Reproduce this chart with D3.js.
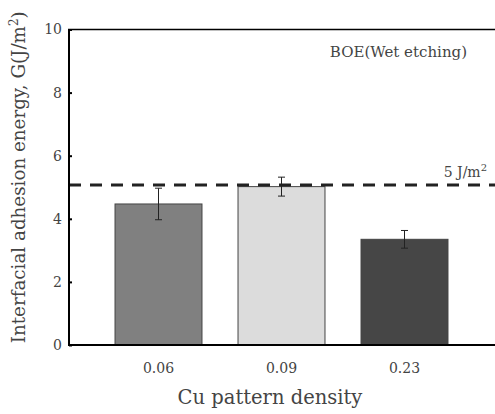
<!DOCTYPE html>
<html>
<head>
<meta charset="utf-8">
<script src="https://cdn.jsdelivr.net/npm/d3@7"></script>
<style>
  body { margin: 0; background: #fff; }
  text { font-family: "DejaVu Serif", "Liberation Serif", serif; fill: #444; }
</style>
</head>
<body>
<div id="chart"></div>
<script>
// data
var categories = ["0.06", "0.09", "0.23"];
var values = [4.47, 5.02, 3.35];
var errors = [0.5, 0.3, 0.28];
var fills = ["#808080", "#dcdcdc", "#464646"];
var yTicks = [0, 2, 4, 6, 8, 10];
var refValue = 5.07;

var W = 495, H = 414;
var margin = {top: 29.5, right: 0, bottom: 69, left: 69};
var width = W - margin.left - margin.right,
    height = H - margin.top - margin.bottom;

var svg = d3.select("#chart").append("svg")
    .attr("width", W)
    .attr("height", H)
  .append("g")
    .attr("transform", "translate(" + margin.left + "," + margin.top + ")");

// set the ranges
var x = d3.scaleBand()
    .domain(categories)
    .range([28, 397])
    .paddingInner(0.293)
    .paddingOuter(0.1465);
var y = d3.scaleLinear()
    .domain([0, 10])
    .range([height, 0]);

// bars
svg.selectAll("rect.bar")
    .data(values)
  .enter().append("rect")
    .attr("class", "bar")
    .attr("x", function(d, i) { return x(categories[i]); })
    .attr("width", x.bandwidth())
    .attr("y", function(d) { return y(d); })
    .attr("height", function(d) { return y(0) - y(d); })
    .attr("fill", function(d, i) { return fills[i]; })
    .attr("stroke", "#444")
    .attr("stroke-width", 1);

// error bars
var eb = svg.selectAll("g.err")
    .data(values)
  .enter().append("g")
    .attr("class", "err")
    .attr("stroke", "#222")
    .attr("stroke-width", 1);
eb.append("line")
    .attr("x1", function(d, i) { return x(categories[i]) + x.bandwidth() / 2; })
    .attr("x2", function(d, i) { return x(categories[i]) + x.bandwidth() / 2; })
    .attr("y1", function(d, i) { return y(d + errors[i]); })
    .attr("y2", function(d, i) { return y(d - errors[i]); });
[1, -1].forEach(function(s) {
  eb.append("line")
    .attr("x1", function(d, i) { return x(categories[i]) + x.bandwidth() / 2 - 3.5; })
    .attr("x2", function(d, i) { return x(categories[i]) + x.bandwidth() / 2 + 3.5; })
    .attr("y1", function(d, i) { return y(d + s * errors[i]); })
    .attr("y2", function(d, i) { return y(d + s * errors[i]); });
});

// reference dashed line
svg.append("line")
    .attr("x1", 0).attr("x2", width)
    .attr("y1", y(refValue)).attr("y2", y(refValue))
    .attr("stroke", "#222")
    .attr("stroke-width", 3)
    .attr("stroke-dasharray", "12,9");

// axes
var yAxis = svg.append("g")
    .call(d3.axisLeft(y).tickValues(yTicks).tickSize(-3).tickPadding(7));
yAxis.select(".domain").remove();
yAxis.selectAll(".tick line").attr("stroke", "#000").attr("stroke-width", 2);
yAxis.selectAll(".tick text").attr("font-size", 14).attr("fill", "#444")
    .attr("font-family", "DejaVu Serif");

var xAxis = svg.append("g")
    .attr("transform", "translate(0," + height + ")")
    .call(d3.axisBottom(x).tickSize(0).tickPadding(18));
xAxis.select(".domain").remove();
xAxis.selectAll(".tick text").attr("font-size", 14).attr("fill", "#444")
    .attr("font-family", "DejaVu Serif");

// frame lines
svg.append("line").attr("x1", 0).attr("x2", 0).attr("y1", 0).attr("y2", height)
    .attr("stroke", "#000").attr("stroke-width", 2);
svg.append("line").attr("x1", -1).attr("x2", width).attr("y1", height).attr("y2", height)
    .attr("stroke", "#000").attr("stroke-width", 2);
svg.append("line").attr("x1", -1).attr("x2", width).attr("y1", 0).attr("y2", 0)
    .attr("stroke", "#000").attr("stroke-width", 1.5);

// labels
svg.append("text")
    .attr("x", width / 2 - 12).attr("y", height + 59)
    .attr("text-anchor", "middle")
    .attr("font-size", 19.5)
    .text("Cu pattern density");

svg.append("text")
    .attr("transform", "translate(-44," + (height / 2 - 10) + ") rotate(-90)")
    .attr("text-anchor", "middle")
    .attr("font-size", 18.3)
    .html("Interfacial adhesion energy, G(J/m<tspan dy='-7' font-size='12'>2</tspan><tspan dy='7'>)</tspan>");

svg.append("text")
    .attr("x", 398).attr("y", 27)
    .attr("text-anchor", "end")
    .attr("font-size", 15)
    .text("BOE(Wet etching)");

svg.append("text")
    .attr("x", 418).attr("y", y(refValue) - 8)
    .attr("text-anchor", "end")
    .attr("font-size", 14)
    .html("5 J/m<tspan dy='-6' font-size='10'>2</tspan>");
</script>
</body>
</html>
